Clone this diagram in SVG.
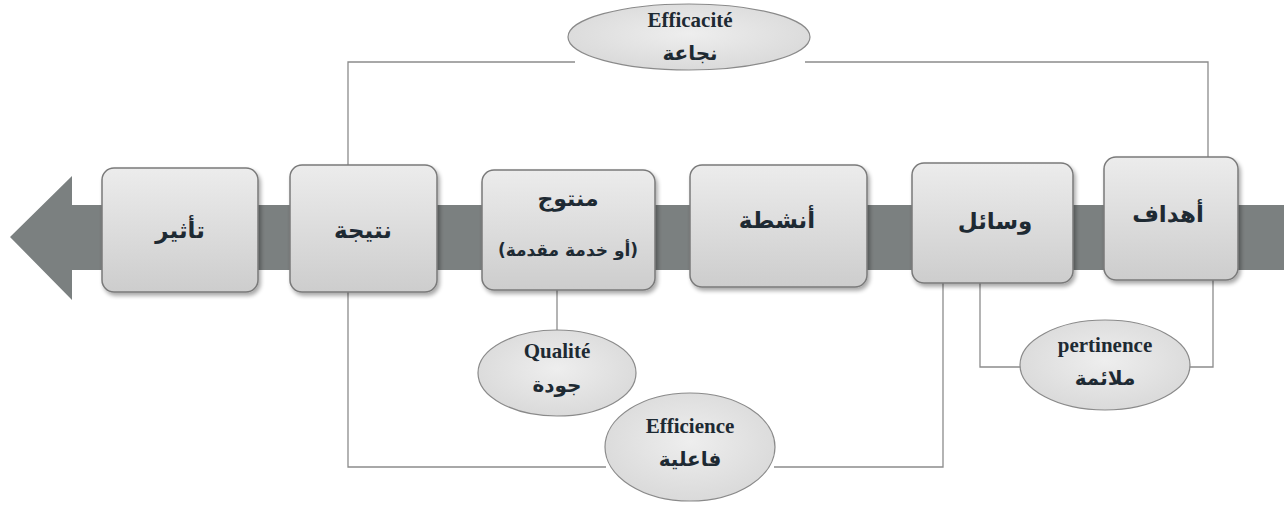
<svg xmlns="http://www.w3.org/2000/svg" width="1284" height="506" viewBox="0 0 1284 506">
<defs>
<linearGradient id="boxg" x1="0" y1="0" x2="0" y2="1">
<stop offset="0" stop-color="#ececec"/>
<stop offset="1" stop-color="#cdcdcd"/>
</linearGradient>
<radialGradient id="ellg" cx="0.5" cy="0.45" r="0.6">
<stop offset="0" stop-color="#eeeeee"/>
<stop offset="1" stop-color="#d8d8d8"/>
</radialGradient>
<filter id="sh" x="-10%" y="-10%" width="125%" height="125%">
<feGaussianBlur in="SourceAlpha" stdDeviation="2"/>
<feOffset dx="2" dy="3"/>
<feComponentTransfer><feFuncA type="linear" slope="0.35"/></feComponentTransfer>
<feMerge><feMergeNode/><feMergeNode in="SourceGraphic"/></feMerge>
</filter>
</defs>
<style>
.box{fill:url(#boxg);stroke:#7a7a7a;stroke-width:1.5;filter:url(#sh)}
.ell{fill:url(#ellg);stroke:#8a8a8a;stroke-width:1.2}
.ar{font-family:"DejaVu Sans",sans-serif;font-weight:bold;fill:#1e2a33;text-anchor:middle}
.la{font-family:"Liberation Serif",serif;font-weight:bold;fill:#1e2a33;text-anchor:middle;font-size:21px}
.ln{fill:none;stroke:#8c8c8c;stroke-width:1.3}
</style>
<rect width="1284" height="506" fill="#ffffff"/>
<g id="arrow">
<path d="M1284,205 L72,205 L72,176 L10,237 L72,300 L72,270 L1284,270 Z" fill="#7b8080"/>
</g>
<g id="connectors">
<path class="ln" d="M348,165 V62 H575"/>
<path class="ln" d="M805,62 H1208 V157"/>
<path class="ln" d="M348,292 V467 H606"/>
<path class="ln" d="M774,467 H943 V283"/>
<path class="ln" d="M557,290 V330"/>
<path class="ln" d="M980,283 V367 H1021"/>
<path class="ln" d="M1189,367 H1213 V280"/>
</g>
<g id="n-tathir">
<rect class="box" x="102" y="168" width="156" height="124" rx="12"/>
<text class="ar" x="180" y="238" font-size="23">تأثير</text>
</g>
<g id="n-natija">
<rect class="box" x="290" y="165" width="147" height="127" rx="12"/>
<text class="ar" x="363" y="238" font-size="23">نتيجة</text>
</g>
<g id="n-montouj">
<rect class="box" x="482" y="170" width="173" height="120" rx="12"/>
<text class="ar" x="568" y="206" font-size="22">منتوج</text>
<text class="ar" x="568" y="256" font-size="17">(أو خدمة مقدمة)</text>
</g>
<g id="n-anshita">
<rect class="box" x="690" y="165" width="177" height="122" rx="12"/>
<text class="ar" x="777" y="228" font-size="23">أنشطة</text>
</g>
<g id="n-wasail">
<rect class="box" x="912" y="163" width="161" height="120" rx="12"/>
<text class="ar" x="995" y="229" font-size="23">وسائل</text>
</g>
<g id="n-ahdaf">
<rect class="box" x="1104" y="157" width="134" height="123" rx="12"/>
<text class="ar" x="1168" y="222" font-size="23">أهداف</text>
</g>
<g id="e-efficacite">
<ellipse class="ell" cx="689" cy="37" rx="121" ry="33"/>
<text class="la" x="690" y="27">Efficacité</text>
<text class="ar" x="690" y="60" font-size="20">نجاعة</text>
</g>
<g id="e-qualite">
<ellipse class="ell" cx="557" cy="373" rx="79" ry="43"/>
<text class="la" x="557" y="358">Qualité</text>
<text class="ar" x="557" y="392" font-size="20">جودة</text>
</g>
<g id="e-efficience">
<ellipse class="ell" cx="690" cy="447" rx="85" ry="54"/>
<text class="la" x="690" y="433">Efficience</text>
<text class="ar" x="690" y="466" font-size="20">فاعلية</text>
</g>
<g id="e-pertinence">
<ellipse class="ell" cx="1105" cy="365" rx="85" ry="45"/>
<text class="la" x="1105" y="352">pertinence</text>
<text class="ar" x="1105" y="385" font-size="20">ملائمة</text>
</g>
</svg>
